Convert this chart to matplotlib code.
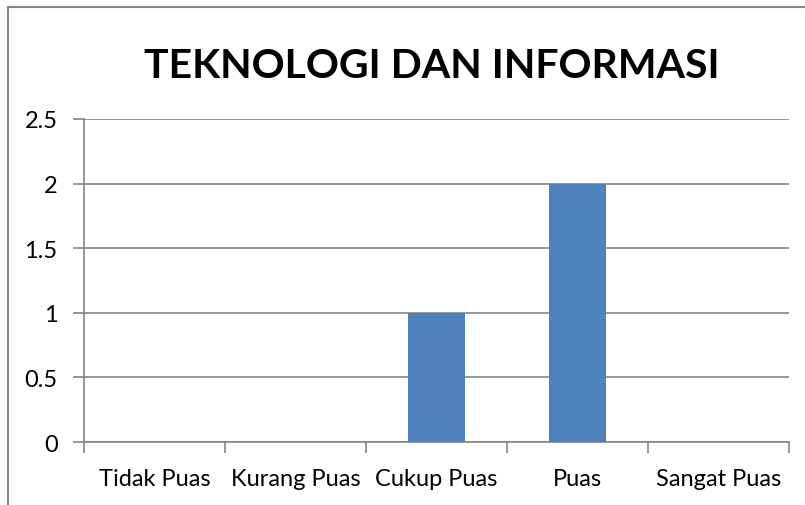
import matplotlib.pyplot as plt
from matplotlib.lines import Line2D

categories = ["Tidak Puas", "Kurang Puas", "Cukup Puas", "Puas", "Sangat Puas"]
values = [0, 0, 1, 2, 0]
yticks = [0, 0.5, 1, 1.5, 2, 2.5]
ytick_labels = ["0", "0.5", "1", "1.5", "2", "2.5"]
title = "TEKNOLOGI DAN INFORMASI"

plt.rcParams['font.family'] = ['Lato', 'DejaVu Sans']

fig = plt.figure(figsize=(8.05, 5.06), dpi=100)
ax = fig.add_axes([84/805, 1-443/506, (789-84)/805, (443-120)/506])

x = list(range(len(categories)))
ax.bar(x, values, width=0.4, color='#4F81BD', zorder=3)

ax.set_xlim(-0.5, len(categories)-0.5)
ax.set_ylim(0, 2.5)
ax.set_yticks(yticks)
ax.set_yticklabels(ytick_labels, fontsize=17)
ax.yaxis.grid(True, color='#868686', linewidth=1.2, zorder=0)

# category ticks sit on the boundaries, labels in the middle
ax.set_xticks([i - 0.5 for i in range(len(categories)+1)])
ax.set_xticklabels([])
ax.set_xticks(x, minor=True)
ax.set_xticklabels(categories, minor=True, fontsize=17)
ax.tick_params(axis='x', which='minor', length=0, pad=19)
ax.tick_params(axis='x', which='major', length=8, color='#868686', width=1.2)
ax.tick_params(axis='y', length=8, color='#868686', width=1.2, pad=11)

for s in ['top', 'right']:
    ax.spines[s].set_visible(False)
for s in ['left', 'bottom']:
    ax.spines[s].set_color('#868686')
    ax.spines[s].set_linewidth(1.2)

fig.text(432/805, 1-66/506, title, ha='center', va='center', fontsize=29.5, fontweight='bold')

# outer chart border (only left and top visible)
fig.add_artist(Line2D([7.5/805, 7.5/805], [0, 1-7.5/506], transform=fig.transFigure, color='#868686', linewidth=1.5))
fig.add_artist(Line2D([7.5/805, 1], [1-7.5/506, 1-7.5/506], transform=fig.transFigure, color='#868686', linewidth=1.5))

fig.savefig('out.png', dpi=100)
